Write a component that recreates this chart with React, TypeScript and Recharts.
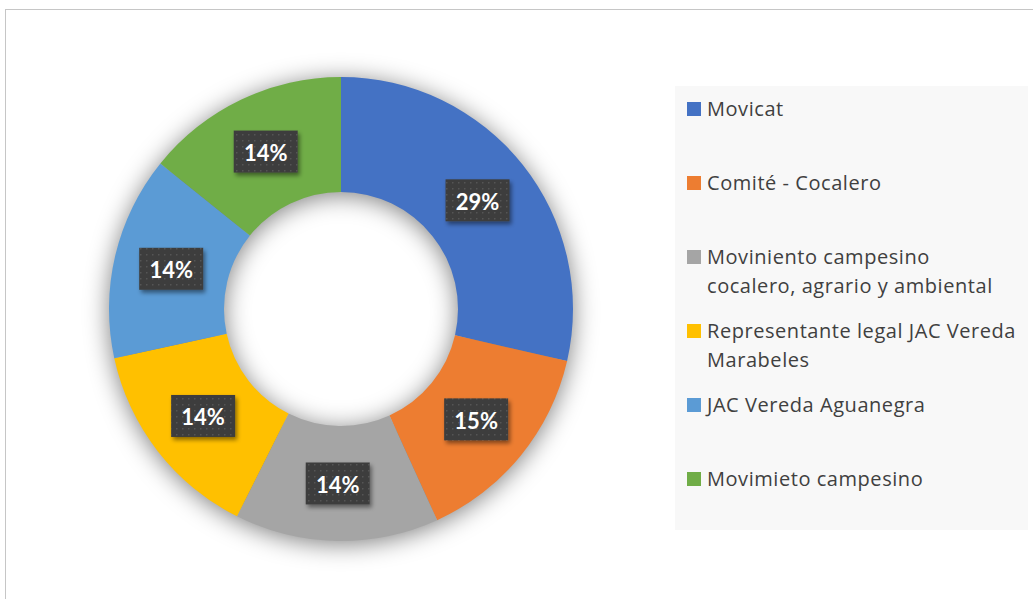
import React from 'react';
import { PieChart, Pie, Cell, Legend, Sector } from 'recharts';

const categories = [
  'Movicat',
  'Comité - Cocalero',
  'Moviniento campesino cocalero, agrario y ambiental',
  'Representante legal JAC Vereda Marabeles',
  'JAC Vereda Aguanegra',
  'Movimieto campesino',
];
const shares = [28.6, 14.6, 14.2, 14.2, 14.2, 14.2];
const colors = ['#4472C4', '#ED7D31', '#A5A5A5', '#FFC000', '#5B9BD5', '#70AD47'];
const legendLines = [
  ['Movicat'],
  ['Comité - Cocalero'],
  ['Moviniento campesino', 'cocalero, agrario y ambiental'],
  ['Representante legal JAC Vereda', 'Marabeles'],
  ['JAC Vereda Aguanegra'],
  ['Movimieto campesino'],
];

const data = categories.map((name, i) => ({ name, value: shares[i] }));
const ring = [{ name: 'ring', value: 1 }];

const RAD = Math.PI / 180;

const renderLabel = (p: any) => {
  const r = (p.innerRadius + p.outerRadius) / 2;
  const x = p.cx + r * Math.cos(-p.midAngle * RAD);
  const y = p.cy + r * Math.sin(-p.midAngle * RAD);
  const txt = `${Math.round(p.percent * 100)}%`;
  const w = 64;
  const h = 42;
  return (
    <g>
      <rect x={x - w / 2} y={y - h / 2} width={w} height={h} fill="url(#dots)" filter="url(#lblShadow)" />
      <text
        x={x}
        y={y + 1}
        textAnchor="middle"
        dominantBaseline="central"
        fill="#ffffff"
        fontFamily="Lato"
        fontWeight={700}
        fontSize={22}
      >
        {txt}
      </text>
    </g>
  );
};

const shadowShape = (props: any) => (
  <g filter="url(#ringShadow)">
    <Sector {...props} />
  </g>
);

const renderLegend = () => (
  <div
    style={{
      width: '100%',
      height: '100%',
      background: '#f8f8f8',
      boxSizing: 'border-box',
      paddingTop: 9,
      fontFamily: '"Open Sans"',
      fontSize: 20,
      letterSpacing: 0.55,
      color: '#404040',
    }}
  >
    {legendLines.map((lines, i) => (
      <div key={i} style={{ position: 'relative', height: 74 }}>
        <div style={{ position: 'absolute', left: 12, top: 7, width: 14, height: 14, background: colors[i] }} />
        <div style={{ position: 'absolute', left: 32, top: 0, lineHeight: '28.5px', whiteSpace: 'nowrap' }}>
          {lines.map((l, j) => (
            <div key={j}>{l}</div>
          ))}
        </div>
      </div>
    ))}
  </div>
);

export default function App() {
  return (
    <div style={{ position: 'fixed', left: 0, top: 0, width: 1033, height: 599, overflow: 'hidden', background: '#fff' }}>
      <div
        style={{
          position: 'absolute',
          left: 5,
          top: 9,
          width: 1100,
          height: 700,
          border: '1px solid #c6c6c6',
        }}
      />
      <div style={{ position: 'absolute', left: 0, top: 0 }}>
        <PieChart width={1033} height={599} margin={{ top: 0, right: 0, bottom: 0, left: 0 }}>
          <defs>
            <pattern id="dots" width="6" height="6" patternUnits="userSpaceOnUse">
              <rect width="6" height="6" fill="#3d3d3d" />
              <rect x="2" y="2" width="1.5" height="1.5" fill="#545454" />
            </pattern>
            <filter id="lblShadow" x="-30%" y="-30%" width="160%" height="160%">
              <feDropShadow dx="2" dy="3" stdDeviation="2" floodColor="#000" floodOpacity="0.45" />
            </filter>
            <filter id="ringShadow" x="-50%" y="-50%" width="200%" height="200%">
              <feOffset dx="0" dy="3" />
              <feGaussianBlur stdDeviation="12" />
            </filter>
          </defs>
          <Pie
            data={ring}
            dataKey="value"
            cx={341}
            cy={309}
            innerRadius={117}
            outerRadius={232}
            startAngle={90}
            endAngle={-270}
            stroke="none"
            fill="#000"
            fillOpacity={0.5}
            shape={shadowShape}
            isAnimationActive={false}
            legendType="none"
          />
          <Pie
            data={data}
            dataKey="value"
            nameKey="name"
            cx={341}
            cy={309}
            innerRadius={117}
            outerRadius={232}
            startAngle={90}
            endAngle={-270}
            stroke="none"
            label={renderLabel}
            labelLine={false}
            isAnimationActive={false}
          >
            {data.map((d, i) => (
              <Cell key={d.name} fill={colors[i]} />
            ))}
          </Pie>
          <Legend
            content={renderLegend}
            wrapperStyle={{ position: 'absolute', left: 675, top: 86, width: 353, height: 444 }}
          />
        </PieChart>
      </div>
    </div>
  );
}
